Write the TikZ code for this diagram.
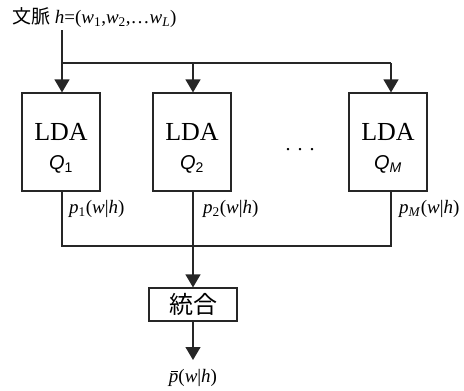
\documentclass[tikz,border=0pt]{standalone}
\usepackage{fontspec}
\setmainfont{Liberation Serif}
\newfontfamily\cjk{Noto Sans CJK JP}
\newfontfamily\qsans{Liberation Sans}
\usetikzlibrary{arrows.meta}
\tikzset{
  ln/.style={line width=1.2pt, draw=black!85},
  arr/.style={ln, -{Triangle[length=13pt,width=15pt]}},
  ldabox/.style={draw=black!85, line width=1.2pt, minimum width=78pt, minimum height=98pt, inner sep=0pt},
  ldatxt/.style={font=\fontsize{26}{28}\selectfont, inner sep=0pt},
  qtxt/.style={font=\fontsize{20}{22}\selectfont\qsans\itshape, inner sep=0pt},
  plab/.style={font=\fontsize{19}{21}\selectfont, inner sep=0pt, anchor=west},
}
\newcommand{\wsub}[1]{\textsubscript{#1}}
\newcommand{\pbarsym}{\makebox[0pt][l]{\hspace{2.5pt}\rule[11pt]{7pt}{0.8pt}}\textit{p}}
\begin{document}
\begin{tikzpicture}[x=1pt,y=-1pt]
\useasboundingbox (0,0) rectangle (464,391);
% title
\node[anchor=west, inner sep=0pt, font=\fontsize{19}{21}\selectfont] (title) at (12,18)
  {{\cjk\fontsize{19}{21}\selectfont 文脈} \textit{h}=(\textit{w}\wsub{1},\textit{w}\wsub{2},\dots\textit{w}\wsub{\textit{L}})};
% line x positions
\coordinate (x1) at (62,30);
\coordinate (j1) at (62,63);
\coordinate (j2) at (193,63);
\coordinate (j3) at (391,63);
% boxes
\node[ldabox] (b1) at (61,142) {};
\node[ldabox] (b2) at (192,142) {};
\node[ldabox] (b3) at (388,142) {};
\foreach \b/\q in {b1/{Q\textsubscript{\upshape 1}}, b2/{Q\textsubscript{\upshape 2}}, b3/{Q\textsubscript{M}}}{
  \node[ldatxt] at ([yshift=10pt]\b.center) {LDA};
  \node[qtxt] at ([yshift=-22pt]\b.center) {\q};
}
\node[inner sep=0pt, font=\fontsize{20}{22}\selectfont] (dots) at (300,150) {.\hspace{7pt}.\hspace{7pt}.};
% top connectors
\draw[ln] (x1) -- (j1) -- (j3);
\draw[arr] (j1) -- (j1 |- b1.north);
\draw[arr] (j2) -- (j2 |- b2.north);
\draw[arr] (j3) -- (j3 |- b3.north);
% bottom lines
\coordinate (k1) at (62,246);
\coordinate (k2) at (193,246);
\coordinate (k3) at (391,246);
\draw[ln] (k1 |- b1.south) -- (k1) -- (k3) -- (k3 |- b3.south);
% merge box
\node[draw=black!85, line width=1.2pt, minimum width=88pt, minimum height=33pt, inner sep=0pt,
      font=\fontsize{24}{26}\selectfont\cjk] (merge) at (193,304.5) {統合};
\draw[arr] (k2 |- b2.south) -- (merge.north);
\coordinate (out) at (193,360);
\draw[arr] (merge.south) -- (out);
% labels
\node[plab] (p1) at (69,209) {\textit{p}\wsub{1}(\textit{w}|\textit{h})};
\node[plab] (p2) at (203,209) {\textit{p}\wsub{2}(\textit{w}|\textit{h})};
\node[plab] (pm) at (399,209) {\textit{p}\wsub{\textit{M}}(\textit{w}|\textit{h})};
\node[inner sep=0pt, font=\fontsize{19}{21}\selectfont] (pbar) at (193,378)
  {\pbarsym(\textit{w}|\textit{h})};
\end{tikzpicture}
\end{document}
